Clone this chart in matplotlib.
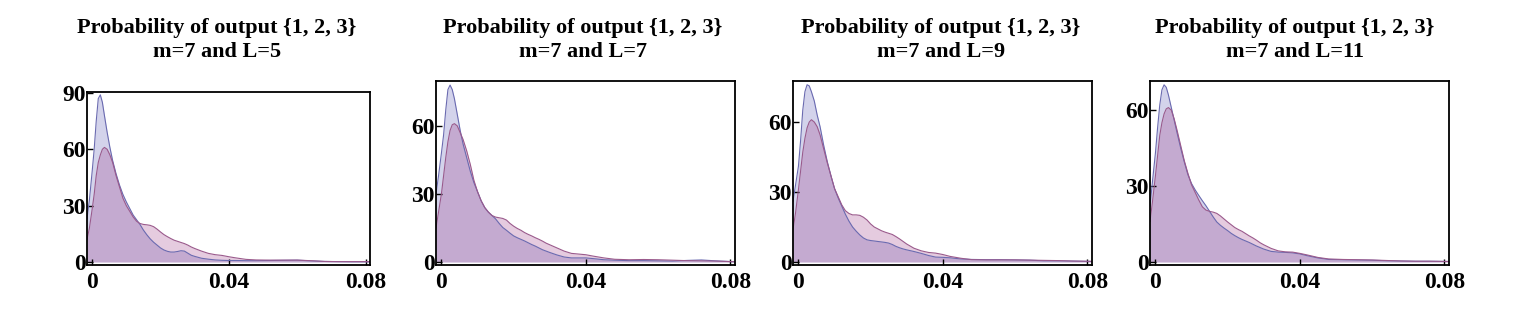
import numpy as np
import matplotlib
matplotlib.use("Agg")
import matplotlib.pyplot as plt

plt.rcParams['font.family'] = ['Liberation Serif', 'DejaVu Serif']
plt.rcParams['font.weight'] = 'bold'

# x positions (in units of 1e-3) shared by every curve
x_grid = [-1.5, -0.8, 0, 0.6, 1.2, 1.8, 2.4, 3.0, 3.6, 4.4, 5.2, 6.0, 7.0, 8.0, 9.0,
          10, 11, 12, 13, 14, 15, 16, 17, 18, 19, 20, 21, 22, 23, 24, 25, 26, 27, 28,
          29, 30, 32, 34, 36, 38, 40, 42, 45, 48, 52, 56, 60, 64, 68, 72, 76, 81.5]

blue_L5 = [23, 33, 48, 60, 75, 87, 89, 85, 78, 69, 61, 54, 47, 41, 36,
           32, 28.5, 25, 22.5, 20, 17, 14.5, 12.3, 10.5, 9, 7.5, 6.4, 5.7, 5.3, 5.3, 5.6, 6, 5.8, 4.7,
           3.6, 3, 2, 1.5, 1.1, 0.9, 0.8, 0.8, 0.7, 0.7, 0.8, 0.9, 1.0, 0.6, 0.3, 0.2, 0.1, 0.1]
red_L5 = [12, 18, 28, 36, 46, 53, 57, 60, 61, 60, 57, 53, 46, 40, 34,
          30, 27, 24, 21.7, 20.5, 20, 19.8, 19.5, 18.8, 17.5, 16, 14.6, 13.5, 12.5, 11.6, 11, 10.4, 9.8, 9,
          8, 7.2, 5.8, 4.6, 3.9, 3.5, 2.8, 2.2, 1.4, 1.1, 1.0, 1.0, 1.0, 0.7, 0.3, 0.2, 0.2, 0.2]

blue_L7 = [30, 38, 48, 56, 67, 76, 78, 76, 72, 65, 58, 52, 46, 40, 35,
           31, 27, 24, 22, 20.5, 19, 17, 15.2, 14, 12.7, 11.5, 10.7, 10, 9.3, 8.5, 7.7, 7, 6.2, 5.4,
           4.8, 4.2, 3.1, 2.2, 1.8, 1.8, 1.8, 1.5, 1.0, 0.8, 0.6, 0.6, 0.5, 0.4, 0.7, 0.9, 0.5, 0.1]
red_L7 = [15, 22, 30, 38, 46, 53, 58, 60.5, 61, 60, 57, 54, 49, 43, 36,
          31, 27, 24, 22, 20.5, 19.8, 19.5, 19.2, 18.5, 17, 15.8, 14.8, 14, 13, 12.2, 11.5, 10.7, 10, 9.2,
          8.3, 7.6, 6.2, 4.8, 3.8, 3.5, 3.2, 2.6, 1.8, 1.2, 1.0, 1.1, 1.0, 0.8, 0.6, 0.5, 0.4, 0.1]

blue_L9 = [26, 33, 41, 52, 65, 73, 76, 75.5, 73, 69, 63, 58, 50, 43, 37,
           31.5, 27.5, 24, 20.5, 17.5, 15, 13.2, 11.6, 10.3, 9.5, 9.2, 9, 8.8, 8.6, 8.4, 8.1, 7.5, 6.7, 6.1,
           5.6, 5.2, 4.5, 3.7, 2.8, 2.1, 2.0, 1.8, 1.3, 1.1, 1.0, 1.0, 0.9, 0.8, 0.5, 0.5, 0.4, 0.2]
red_L9 = [14, 21, 31, 39, 47, 53, 57.5, 60, 61, 60, 58, 54.5, 48.5, 42.5, 37,
          31.5, 28, 24.5, 22, 20.8, 20.2, 20.2, 20, 19.2, 18, 16.3, 15, 14.2, 13.4, 12.8, 12.3, 11.8, 10.9, 9.9,
          8.8, 7.7, 5.9, 4.8, 4.1, 3.8, 3.2, 2.4, 1.6, 1.0, 0.9, 0.9, 0.9, 0.8, 0.7, 0.6, 0.4, 0.3]

blue_L11 = [22, 32, 43, 53, 62, 68, 70, 69, 66, 61, 56, 51, 45, 39.5, 34.5,
            31, 28.5, 26.3, 24.2, 22.2, 20, 17.8, 15.8, 14.5, 13.4, 12.4, 11.3, 10.4, 9.6, 8.9, 8.3, 7.7, 7, 6.3,
            5.7, 5.1, 4.2, 3.9, 3.8, 3.6, 3.2, 2.5, 1.6, 1.0, 0.9, 0.8, 0.7, 0.5, 0.4, 0.3, 0.3, 0.2]
red_L11 = [16, 24, 34, 42, 50, 55, 58.5, 60.5, 61, 60, 56.5, 52, 46, 40, 35,
           30.5, 27.5, 24.5, 21.8, 20.5, 20, 19.7, 19.2, 18.2, 17, 15.8, 14.7, 13.6, 12.8, 12.1, 11.2, 10.3, 9.5, 8.6,
           7.6, 6.8, 5.4, 4.4, 4.0, 3.9, 3.4, 2.8, 1.8, 1.2, 1.0, 0.9, 0.8, 0.6, 0.4, 0.3, 0.3, 0.2]

L_values = [5, 7, 9, 11]
blue_series = [blue_L5, blue_L7, blue_L9, blue_L11]
red_series = [red_L5, red_L7, red_L9, red_L11]
y_ticks = [[0, 30, 60, 90], [0, 30, 60], [0, 30, 60], [0, 30, 60]]
y_tops = [90.5, 79.8, 77.6, 71.5]

# axes boxes in pixels: left, right, top, bottom
W, H = 1517, 315
boxes = [(87, 370, 92, 265), (436, 735, 81, 265), (793, 1092, 81, 265), (1150, 1449, 81, 265)]
title_x = [217, 583, 941, 1295]

fig = plt.figure(figsize=(W / 100, H / 100), dpi=100)
x = np.array(x_grid) * 1e-3

for i in range(4):
    l, r, t, b = boxes[i]
    ax = fig.add_axes([l / W, (H - b) / H, (r - l) / W, (b - t) / H])
    yb = np.array(blue_series[i])
    yr = np.array(red_series[i])
    ax.fill_between(x, 0, yb, color='#5e5eb8', alpha=0.27, lw=0)
    ax.plot(x, yb, color='#6a6ab0', lw=0.8)
    ax.fill_between(x, 0, yr, color='#9a3380', alpha=0.25, lw=0)
    ax.plot(x, yr, color='#9a5a8c', lw=0.8)

    ax.set_xlim(-0.0015, 0.0813)
    top = y_tops[i]
    px_per = (262 - t) / top
    ax.set_ylim(-3 / px_per, top)
    ax.set_xticks([0, 0.04, 0.08])
    ax.set_xticklabels(['0', '0.04', '0.08'])
    ax.set_yticks(y_ticks[i])
    ax.tick_params(direction='in', length=4, width=1, labelsize=17,
                   top=False, right=False)
    ax.tick_params(axis='x', pad=5)
    ax.tick_params(axis='y', pad=1)
    for s in ax.spines.values():
        s.set_linewidth(1.3)
    for lab in ax.get_xticklabels() + ax.get_yticklabels():
        lab.set_fontweight('bold')

    cx = title_x[i] / W
    fig.text(cx, 1 - 28 / H, 'Probability of output {1, 2, 3}', ha='center', va='center',
             fontsize=16, fontweight='bold')
    fig.text(cx, 1 - 52 / H, 'm=7 and L=%d' % L_values[i], ha='center', va='center',
             fontsize=16, fontweight='bold')

fig.savefig('out.png', dpi=100)
